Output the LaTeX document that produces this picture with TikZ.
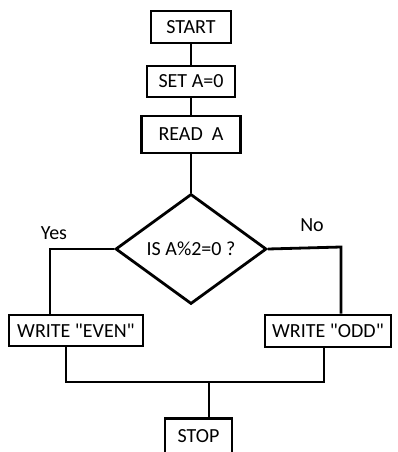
\documentclass[tikz,border=0pt]{standalone}
\usepackage{fontspec}
\setmainfont{Carlito}
\usetikzlibrary{calc, shapes.geometric}
\tikzstyle{proc}=[draw, line width=2.8pt, inner sep=0pt, font=\fontsize{20}{23}\selectfont]
\tikzstyle{dec}=[draw, diamond, line width=2.8pt, inner sep=0pt, minimum width=151pt, minimum height=110pt, font=\fontsize{20}{23}\selectfont]
\tikzstyle{lbl}=[inner sep=0pt, font=\fontsize{20}{23}\selectfont]

\begin{document}
\begin{tikzpicture}[x=1pt,y=1pt,node distance=54pt,line width=2.8pt]
      \useasboundingbox[fill=white] (0,0) rectangle (397,-452);
      \node [proc, minimum width=80pt, minimum height=32pt] (start) at (191,-27) {START};
      \node [proc, minimum width=88pt, minimum height=31pt] (seta) [below of=start, node distance=54.5pt] {SET A=0};
      \node [proc, minimum width=99pt, minimum height=37pt] (reada) [below of=seta, node distance=53pt] {READ\ \ A};
      \node [dec] (test) [below of=reada, node distance=114.5pt] {IS A\%2=0 ?};
      \node [proc, minimum width=134pt, minimum height=31pt] (even) at (76,-330.5) {WRITE \textquotedbl EVEN\textquotedbl};
      \node [proc, minimum width=126pt, minimum height=32pt] (odd) at (328,-331) {WRITE \textquotedbl ODD\textquotedbl};
      \node [proc, minimum width=67pt, minimum height=35pt] (stop) at (198.5,-436) {STOP};
      % branch corners
      \coordinate (yes) at (50,-249);
      \coordinate (no) at (341,-247);
      \coordinate (lj) at (66,-382);
      \coordinate (rj) at (324,-382);
      \coordinate (join) at (209,-382);
      \node [lbl] (yeslbl) at (54,-233) {Yes};
      \node [lbl] (nolbl) at (312,-225) {No};
      \draw (start) -- (seta);
      \draw (seta) -- (reada);
      \draw (reada) -- (test);
      \draw (test.west) -- (yes) -- (yes |- even.north);
      \draw (test.east) -- (no) -- (no |- odd.north);
      \draw (lj |- even.south) -- (lj) -- (rj) -- (rj |- odd.south);
      \draw (join) -- (join |- stop.north);
  \end{tikzpicture}
\end{document}
